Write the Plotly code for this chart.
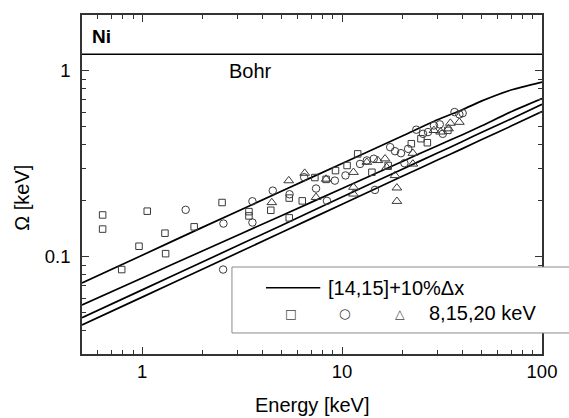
import math
import plotly.graph_objects as go

# ---------------- data ----------------
# theory curves ([14,15] + 10% dx), Omega [keV] vs Energy [keV]
curve_energy = [0.5, 1, 2, 5, 10, 20, 30, 40, 50, 70, 100]
curve_a = [0.0724, 0.102, 0.144, 0.226, 0.318, 0.447, 0.546, 0.619, 0.690, 0.790, 0.872]
curve_b = [0.0551, 0.0769, 0.1075, 0.167, 0.233, 0.326, 0.396, 0.454, 0.507, 0.603, 0.710]
curve_c = [0.047, 0.0664, 0.0938, 0.148, 0.210, 0.296, 0.362, 0.417, 0.468, 0.552, 0.661]
curve_d = [0.043, 0.0607, 0.0857, 0.1355, 0.192, 0.271, 0.332, 0.382, 0.428, 0.505, 0.605]

# Bohr straggling level
bohr_energy = [0.5, 100]
bohr_omega = [1.23, 1.23]

# measured points: squares (8 keV), circles (15 keV), triangles (20 keV)
sq_energy = [0.634, 0.634, 0.79, 0.964, 1.06, 1.30, 1.31, 1.82, 2.51, 3.42, 3.42,
             4.40, 5.44, 5.44, 6.32, 7.31, 8.32, 9.27, 10.59, 11.97, 14.1, 17.0,
             22.2, 24.8, 26.7, 33.8]
sq_omega = [0.168, 0.141, 0.0854, 0.114, 0.176, 0.134, 0.104, 0.145, 0.196, 0.175, 0.166,
            0.178, 0.207, 0.162, 0.200, 0.267, 0.261, 0.291, 0.310, 0.358, 0.285, 0.310,
            0.406, 0.432, 0.411, 0.479]

ci_energy = [1.65, 2.55, 2.54, 3.56, 3.56, 4.50, 5.46, 6.46, 7.41, 8.40, 9.2, 10.4,
             12.3, 13.3, 14.4, 14.6, 17.4, 18.4, 19.7, 20.5, 21.4, 23.5, 25.4, 26.9,
             28.8, 30.8, 31.9, 36.5, 38.6, 40.1]
ci_omega = [0.179, 0.151, 0.0854, 0.199, 0.153, 0.227, 0.217, 0.268, 0.233, 0.200, 0.257, 0.274,
            0.316, 0.330, 0.337, 0.229, 0.389, 0.370, 0.361, 0.319, 0.381, 0.483, 0.459, 0.469,
            0.509, 0.516, 0.459, 0.601, 0.584, 0.593]

tr_energy = [4.45, 5.41, 6.50, 7.41, 8.32, 11.4, 11.4, 11.4, 13.3, 15.1, 16.4, 16.7,
             18.4, 18.8, 18.8, 22.6, 22.6, 28.8, 31.1, 34.1, 34.8, 38.6]
tr_omega = [0.196, 0.257, 0.282, 0.209, 0.262, 0.285, 0.237, 0.218, 0.323, 0.330, 0.337, 0.303,
            0.274, 0.235, 0.199, 0.316, 0.361, 0.479, 0.470, 0.489, 0.524, 0.530]

x_tickvals = [1, 10, 100]
x_ticktext = ["1", "10", "100"]
y_tickvals = [0.1, 1]
y_ticktext = ["0.1", "1"]
x_minor = [m * 10 ** e for e in (-1, 0, 1) for m in range(2, 10)]
y_minor = [m * 10 ** e for e in (-2, -1, 0) for m in range(2, 10)]

FONT = "Liberation Sans, Arial, sans-serif"
AX = "#333333"

fig = go.Figure()

for cy in (curve_a, curve_b, curve_c, curve_d):
    fig.add_trace(go.Scatter(x=curve_energy, y=cy, mode="lines",
                             line=dict(color="black", width=1.7, shape="spline", smoothing=0.6),
                             name="[14,15]+10%Δx", showlegend=False, hoverinfo="skip"))

fig.add_trace(go.Scatter(x=bohr_energy, y=bohr_omega, mode="lines",
                         line=dict(color="black", width=1.5), name="Bohr",
                         showlegend=False))

mk_line = dict(color="#3a3a3a", width=1)
fig.add_trace(go.Scatter(x=sq_energy, y=sq_omega, mode="markers", name="8 keV",
                         marker=dict(symbol="square-open", size=6.5, color="#3a3a3a", line=mk_line),
                         showlegend=False))
fig.add_trace(go.Scatter(x=ci_energy, y=ci_omega, mode="markers", name="15 keV",
                         marker=dict(symbol="circle-open", size=7.5, color="#3a3a3a", line=mk_line),
                         showlegend=False))
fig.add_trace(go.Scatter(x=tr_energy, y=tr_omega, mode="markers", name="20 keV",
                         marker=dict(symbol="triangle-up-open", size=8.5, color="#3a3a3a", line=mk_line),
                         showlegend=False))

axis_common = dict(type="log", showgrid=False, zeroline=False, showline=True,
                   linecolor=AX, linewidth=1.5, mirror="ticks", ticks="inside",
                   tickcolor=AX, tickwidth=1.3, ticklen=7,
                   tickfont=dict(family=FONT, size=18.5, color="black"))

fig.update_xaxes(**axis_common, range=[math.log10(0.5), 2], tickmode="array",
                 tickvals=x_tickvals, ticktext=x_ticktext,
                 minor=dict(tickmode="array", tickvals=x_minor, ticks="inside",
                            ticklen=4, tickcolor=AX, tickwidth=1.2, showgrid=False))
fig.update_yaxes(**axis_common, range=[math.log10(0.03), math.log10(2)], tickmode="array",
                 tickvals=y_tickvals, ticktext=y_ticktext, ticklabelstandoff=6,
                 minor=dict(tickmode="array", tickvals=y_minor, ticks="inside",
                            ticklen=4, tickcolor=AX, tickwidth=1.2, showgrid=False))

# legend box (drawn manually to reproduce the two-row layout)
fig.add_shape(type="rect", xref="paper", yref="paper", x0=0.326, x1=1.08, y0=0.062, y1=0.2566,
              fillcolor="white", line=dict(color="#8a8a8a", width=1), layer="above")
fig.add_shape(type="line", xref="paper", yref="paper", x0=0.400, x1=0.518, y0=0.1956, y1=0.1956,
              line=dict(color="black", width=1.5), layer="above")

annots = [
    dict(text="[14,15]+10%Δx", x=0.530, y=0.1956, xanchor="left", yanchor="middle",
         font=dict(family=FONT, size=20, color="black")),
    dict(text="□", x=0.4536, y=0.120, xanchor="center", yanchor="middle",
         font=dict(family="DejaVu Sans", size=12.5, color="#444444")),
    dict(text="○", x=0.572, y=0.120, xanchor="center", yanchor="middle",
         font=dict(family="DejaVu Sans", size=13.5, color="#444444")),
    dict(text="△", x=0.691, y=0.120, xanchor="center", yanchor="middle",
         font=dict(family="DejaVu Sans", size=12.5, color="#444444")),
    dict(text="8,15,20 keV", x=0.750, y=0.120, xanchor="left", yanchor="middle",
         font=dict(family=FONT, size=20, color="black")),
    dict(text="<b>Ni</b>", x=0.017, y=0.938, xanchor="left", yanchor="middle",
         font=dict(family=FONT, size=19, color="black")),
    dict(text="Energy [keV]", x=0.502, y=-0.150, xanchor="center", yanchor="middle",
         font=dict(family=FONT, size=20, color="black")),
    dict(text="Ω [keV]", x=-0.131, y=0.460, xanchor="center", yanchor="middle", textangle=-90,
         font=dict(family=FONT, size=20, color="black")),
]
for a in annots:
    fig.add_annotation(xref="paper", yref="paper", showarrow=False, **a)

fig.add_annotation(x=math.log10(2.65), y=0, xref="x", yref="y", text="Bohr",
                   showarrow=False, xanchor="left", yanchor="middle",
                   font=dict(family=FONT, size=20, color="black"))

fig.update_layout(width=569, height=418, margin=dict(l=82, r=24, t=15, b=64),
                  paper_bgcolor="white", plot_bgcolor="white", showlegend=False,
                  font=dict(family=FONT, color="black"))

# remove the browser's default 8px body margin so the figure fills the window exactly
fig.write_html("out.html", config={"displayModeBar": False},
               post_script="document.body.style.margin='0';")
